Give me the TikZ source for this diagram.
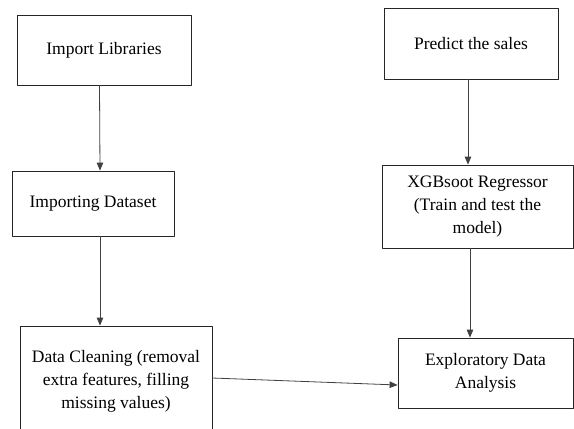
\documentclass[tikz,border=0pt]{standalone}
\usepackage{fontspec}
\setmainfont{Liberation Serif}
\usetikzlibrary{arrows.meta}
\begin{document}
\begin{tikzpicture}[x=1pt,y=-1pt,line cap=round,line join=round,
  flowbox/.style={draw=black!85,line width=.8pt,align=center,inner sep=0pt,
    font=\fontsize{17.5}{23}\selectfont},
  flow/.style={draw=black!75,line width=.8pt,-{Triangle[length=8pt,width=6.5pt]}}]
\useasboundingbox (0,0) rectangle (574,429);
\clip (0,0) rectangle (574,429);
% Linke Spalte
\node[flowbox,minimum width=174pt,minimum height=70pt] (lib) at (104,50){Import Libraries};
\node[flowbox,minimum width=162pt,minimum height=65pt] (data) at (93,203.5){Importing Dataset};
\node[flowbox,minimum width=192pt,minimum height=110pt] (clean) at (116,381)
  {Data Cleaning (removal\\extra features, filling\\missing values)};
% Rechte Spalte
\node[flowbox,minimum width=174pt,minimum height=71pt] (sales) at (471,43.5){Predict the sales};
\node[flowbox,minimum width=191pt,minimum height=83pt] (xgb) at (477.5,206.5)
  {XGBsoot Regressor\\(Train and test the\\model)};
\node[flowbox,minimum width=175pt,minimum height=70pt] (eda) at (485.5,373)
  {Exploratory Data\\Analysis};
% Verbindungen
\draw[flow] ([xshift=-4.5pt]lib.south) -- ([xshift=7pt]data.north);
\draw[flow] ([xshift=7pt]data.south) -- ([xshift=-16pt]clean.north);
\draw[flow] ([xshift=-3pt]sales.south) -- ([xshift=-9.5pt]xgb.north);
\draw[flow] ([xshift=-7.5pt]xgb.south) -- ([xshift=-15.5pt]eda.north);
\draw[flow] ([yshift=3pt]clean.east) -- ([yshift=-12pt]eda.west);
\end{tikzpicture}
\end{document}
